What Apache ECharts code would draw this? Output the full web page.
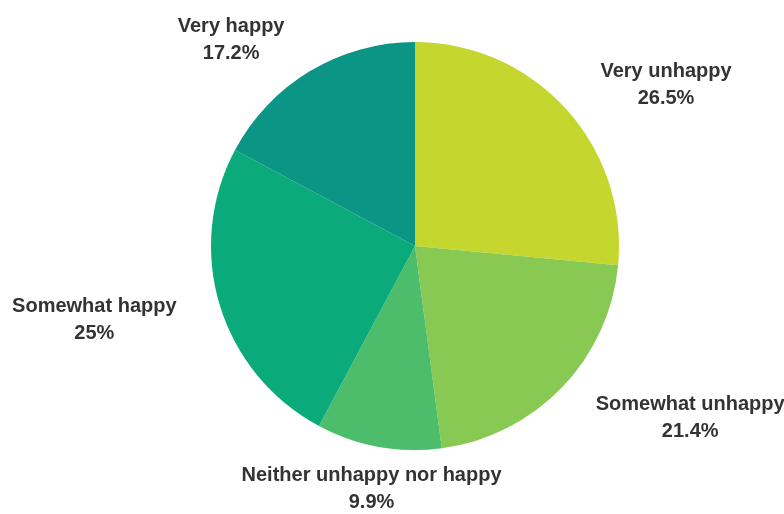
<!DOCTYPE html>
<html>
<head>
<meta charset="utf-8">
<script src="https://cdn.jsdelivr.net/npm/echarts@6/dist/echarts.min.js"></script>
<style>
  html, body { margin: 0; padding: 0; background: #fff; }
  #chart { width: 784px; height: 514px; }
</style>
</head>
<body>
<div id="chart"></div>
<script>
// Survey responses: share of each happiness level (percent)
const categories = [
  'Very unhappy',
  'Somewhat unhappy',
  'Neither unhappy nor happy',
  'Somewhat happy',
  'Very happy'
];
const shares = [26.5, 21.4, 9.9, 25, 17.2];
const sliceColors = ['#c5d62f', '#88c953', '#4bbd6b', '#0aaa7b', '#0b9585'];

const pieCenter = [415, 246];

const chart = echarts.init(document.getElementById('chart'), null, { renderer: 'canvas' });

chart.setOption({
  animation: false,
  backgroundColor: '#ffffff',
  series: [{
    type: 'pie',
    center: pieCenter,
    radius: 204,
    startAngle: 90,
    clockwise: true,
    avoidLabelOverlap: false,
    data: categories.map((name, i) => ({
      name: name,
      value: shares[i],
      itemStyle: { color: sliceColors[i] }
    })),
    label: {
      show: true,
      position: 'outside',
      formatter: p => p.name + '\n' + p.value + '%',
      fontFamily: 'Liberation Sans, Arial, sans-serif',
      fontWeight: 'bold',
      fontSize: 20,
      lineHeight: 27,
      color: '#333333'
    },
    labelLine: { show: false, length: 40, length2: 0 },
    // Both lines of each label are centred inside the label box; labels
    // sitting almost straight below the centre are centred on their anchor.
    labelLayout: function (params) {
      const r = params.labelRect;
      const pts = params.labelLinePoints;
      let cx = r.x + r.width / 2;
      if (pts && pts[1] && Math.abs(pts[1][0] - pieCenter[0]) < 60) {
        cx = pts[1][0];
      }
      return {
        x: cx,
        y: r.y + r.height / 2 + 3,
        align: 'center',
        verticalAlign: 'middle'
      };
    },
    emphasis: { disabled: true }
  }]
});
</script>
</body>
</html>
